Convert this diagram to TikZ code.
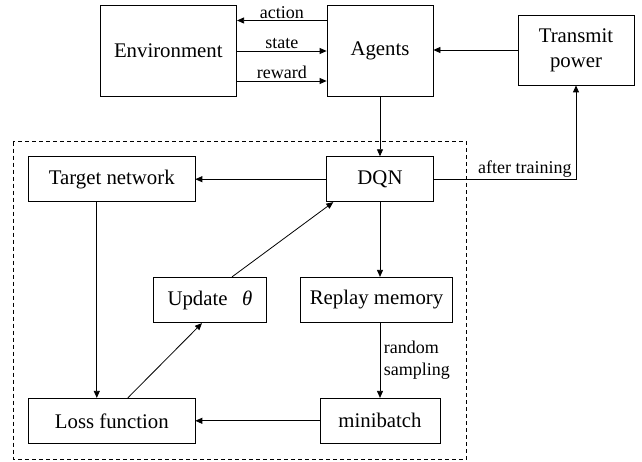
\documentclass[tikz,border=0pt]{standalone}
\usepackage{fontspec}
\setmainfont{LiberationSerif}[Extension=.ttf, UprightFont=*-Regular, ItalicFont=*-Italic, BoldFont=*-Bold]
\usetikzlibrary{arrows.meta,calc}
\begin{document}
\begin{tikzpicture}[x=1pt,y=-1pt,
  box/.style={draw, line width=0.8pt, rectangle, inner sep=0pt,
    font=\fontsize{20.8}{25}\selectfont, align=center},
  arr/.style={line width=0.8pt, -{Triangle[length=7pt,width=6pt]}},
  lbl/.style={font=\fontsize{18}{22}\selectfont, inner sep=1.5pt}]
\useasboundingbox (0,0) rectangle (642,462);

% outer dashed frame of the training loop
\draw[line width=0.8pt, dash pattern=on 4pt off 3pt] (13.3,141.7) rectangle (466.7,459);

% blocks
\node[box, minimum width=136.7pt, minimum height=91.4pt] (env) at (168.3,51) {Environment};
\node[box, minimum width=106pt, minimum height=91pt] (agents) at (380,50.5) {Agents};
\node[box, minimum width=116pt, minimum height=70pt] (tx) at (576,50) {Transmit\\power};
\node[box, minimum width=166.3pt, minimum height=45pt] (target) at (111.8,179.2) {Target network};
\node[box, minimum width=106.6pt, minimum height=45pt] (dqn) at (380,179.2) {DQN};
\node[box, minimum width=113.4pt, minimum height=45.4pt] (update) at (210,300) {Update\hspace{0.7em}{\itshape θ}};
\node[box, minimum width=151.6pt, minimum height=45.4pt] (replay) at (376.5,300) {Replay memory};
\node[box, minimum width=166.3pt, minimum height=45pt] (loss) at (111.8,420.8) {Loss function};
\node[box, minimum width=120pt, minimum height=45pt] (mini) at (380,420.8) {minibatch};

% agent-environment interaction
\draw[arr] ([yshift=30pt]agents.west) -- ([yshift=30pt]agents.west -| env.east)
  node[lbl, midway, above] {action};
\draw[arr] (env.east) -- (env.east -| agents.west)
  node[lbl, midway, above] {state};
\draw[arr] ([yshift=-30pt]env.east) -- ([yshift=-30pt]env.east -| agents.west)
  node[lbl, midway, above] {reward};
\draw[arr] (tx.west) -- (tx.west -| agents.east);

% training loop
\draw[arr] (agents.south) -- (agents.south |- dqn.north);
\draw[arr] (dqn.west) -- (target.east);
\draw[arr] (dqn.east) -| (tx.south)
  node[lbl, pos=0.32, above] {after training};
\draw[arr] ([xshift=-15pt]target.south) -- ([xshift=-15pt]target.south |- loss.north);
\draw[arr] ([xshift=16pt]loss.north) -- ([xshift=-8pt]update.south);
\draw[arr] ([xshift=22pt]update.north) -- ([xshift=7pt]dqn.south west);
\draw[arr] (dqn.south) -- (dqn.south |- replay.north);
\draw[arr] (dqn.south |- replay.south) -- (dqn.south |- mini.north)
  node[lbl, midway, right, align=left, xshift=2pt] {random\\sampling};
\draw[arr] (mini.west) -- (loss.east);
\end{tikzpicture}
\end{document}
